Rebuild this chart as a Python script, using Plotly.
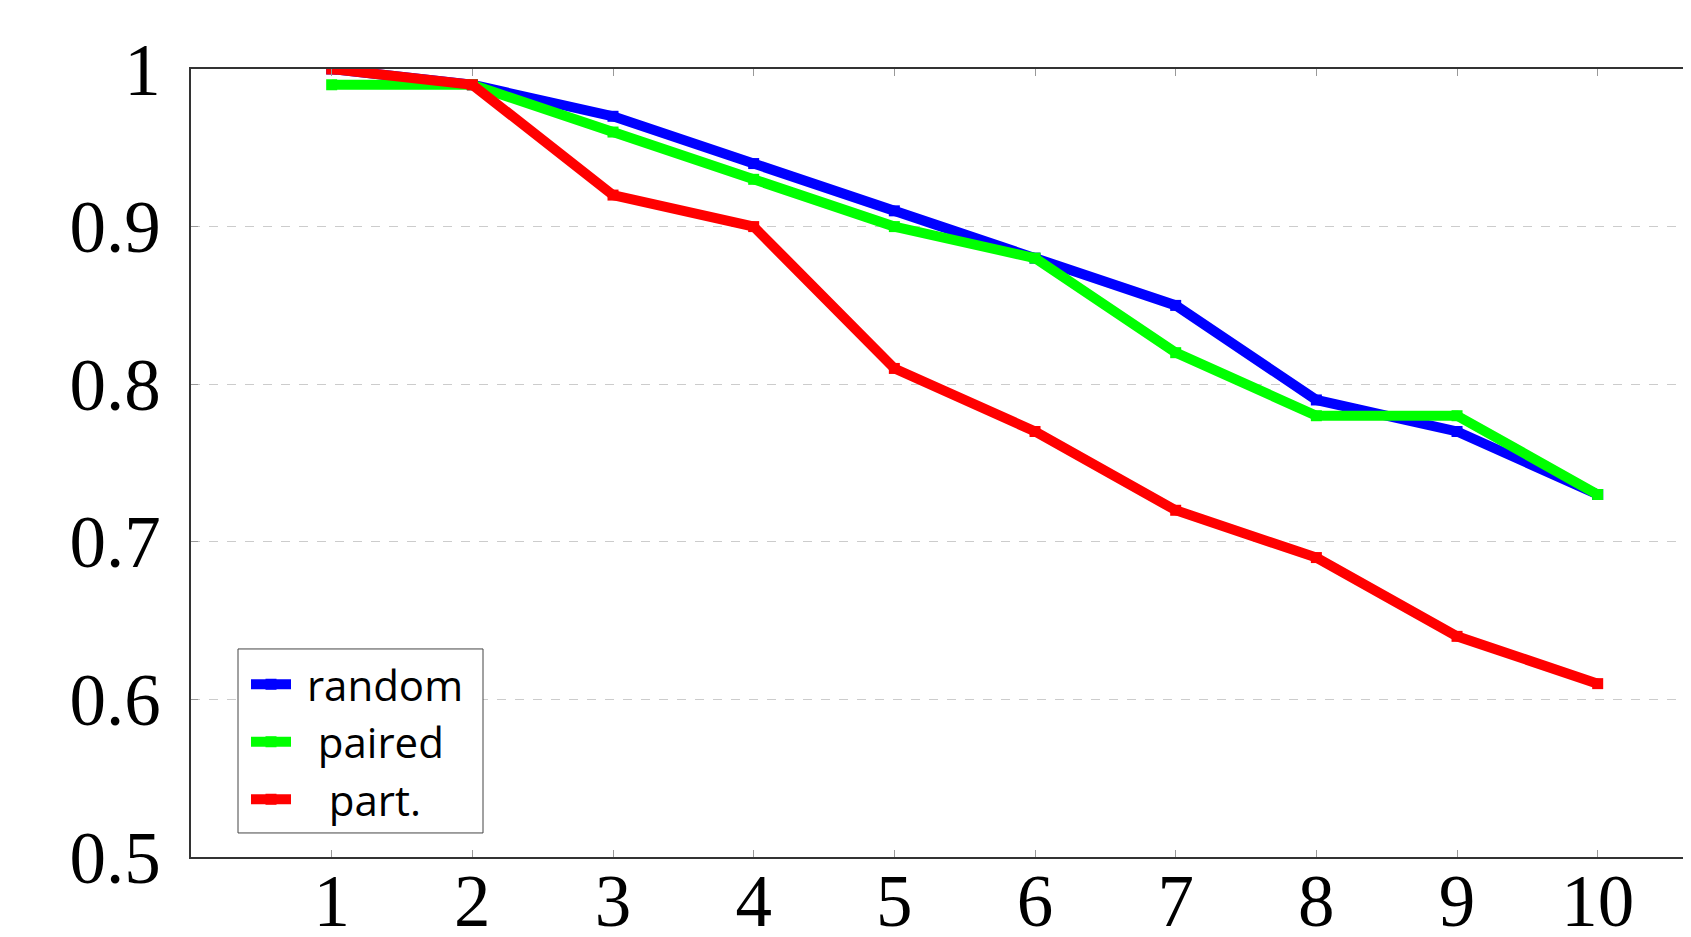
import plotly.graph_objects as go

x_vals = [1, 2, 3, 4, 5, 6, 7, 8, 9, 10]
random_vals = [1.0, 0.99, 0.97, 0.94, 0.91, 0.88, 0.85, 0.79, 0.77, 0.73]
paired_vals = [0.99, 0.99, 0.96, 0.93, 0.90, 0.88, 0.82, 0.78, 0.78, 0.73]
part_vals = [1.0, 0.99, 0.92, 0.90, 0.81, 0.77, 0.72, 0.69, 0.64, 0.61]
series_names = ["random", "paired", "part."]
series_colors = ["#0000ff", "#00ff00", "#ff0000"]
y_tickvals = [0.5, 0.6, 0.7, 0.8, 0.9, 1.0]
y_ticktext = ["0.5", "0.6", "0.7", "0.8", "0.9", "1"]
x_ticktext = [str(v) for v in x_vals]

# legend labels padded so they appear centred in the legend box
NB = "\u00a0"
legend_pad = {"random": (1, 1), "paired": (2, 2), "part.": (3, 3)}

fig = go.Figure()
for name, vals, col in zip(series_names, [random_vals, paired_vals, part_vals], series_colors):
    lp, rp = legend_pad[name]
    fig.add_trace(go.Scatter(
        x=x_vals, y=vals, name=NB * lp + name + NB * rp, mode="lines+markers",
        line=dict(color=col, width=10),
        marker=dict(symbol="square", size=11, color=col),
    ))

tick_font = dict(family="Liberation Serif, DejaVu Serif, serif", size=73, color="black")

W = 1700
L = 183
plot_w = W - L
unit = 140.67
xmax = plot_w / unit

def px2paper(px):
    return px / plot_w

# legend frame drawn as a shape (gives the roomier padding of the original)
fig.add_shape(type="rect", xref="paper", yref="paper",
              x0=px2paper(47), x1=px2paper(292), y0=0.0305, y1=0.264,
              line=dict(color="#444", width=1), fillcolor="white", layer="above")

fig.update_layout(
    width=W, height=929,
    margin=dict(l=L, r=0, t=61, b=80),
    plot_bgcolor="white", paper_bgcolor="white",
    showlegend=True,
    legend=dict(
        x=px2paper(55), y=0.03, xanchor="left", yanchor="bottom",
        bgcolor="rgba(0,0,0,0)", borderwidth=0,
        font=dict(family="Open Sans, Lato, sans-serif", size=42, color="black"),
        itemwidth=40, tracegroupgap=0,
    ),
    xaxis=dict(
        range=[0, xmax], tickvals=x_vals, ticktext=x_ticktext,
        showgrid=False, zeroline=False, automargin=False,
        showline=True, linecolor="#333", linewidth=1.5, mirror="allticks",
        ticks="inside", ticklen=7, tickcolor="#999", tickwidth=1,
        tickfont=tick_font, ticklabelstandoff=-20,
    ),
    yaxis=dict(
        range=[0.5, 1.0], tickvals=y_tickvals, ticktext=y_ticktext,
        showgrid=True, gridcolor="#cccccc", griddash="dash", gridwidth=1,
        zeroline=False, automargin=False,
        showline=True, linecolor="#333", linewidth=1.5, mirror=False,
        ticks="inside", ticklen=7, tickcolor="#999", tickwidth=1,
        tickfont=tick_font, ticklabelstandoff=14,
    ),
)

fig.write_html("out.html")
